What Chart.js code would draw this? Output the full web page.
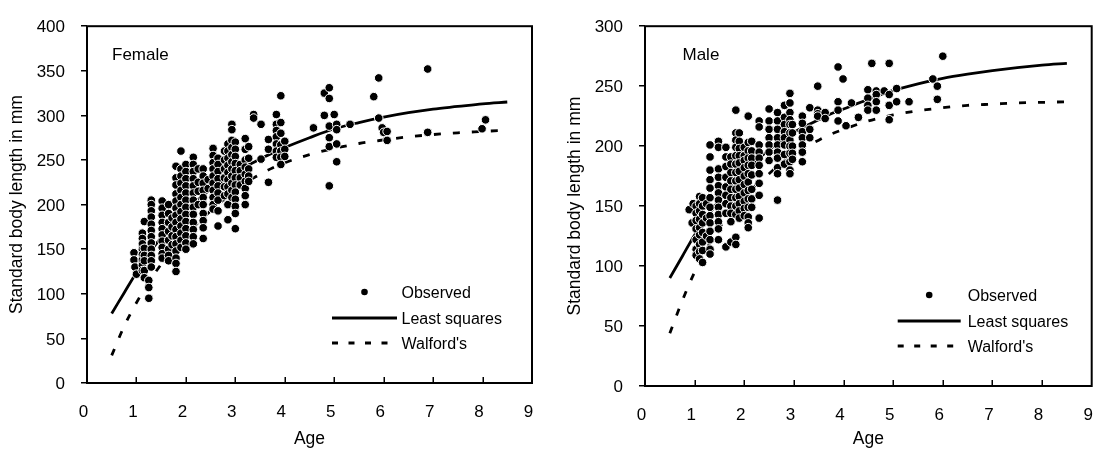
<!DOCTYPE html>
<html>
<head>
<meta charset="utf-8">
<script src="https://cdn.jsdelivr.net/npm/chart.js@4.4.1/dist/chart.umd.min.js"></script>
<style>
  html, body { margin: 0; padding: 0; background: #fff; }
  body { width: 1097px; height: 450px; position: relative; overflow: hidden; }
  canvas { position: absolute; top: 0; }
  #female { left: 0; }
  #male { left: 548px; }
</style>
</head>
<body>
<canvas id="female" width="548" height="450"></canvas>
<canvas id="male" width="549" height="450"></canvas>
<script>
// ---------------- DATA ----------------
const xTickLabels = ['0','1','2','3','4','5','6','7','8','9'];
const femaleYTicks = [0, 50, 100, 150, 200, 250, 300, 350, 400];
const maleYTicks = [0, 50, 100, 150, 200, 250, 300];
const legendLabels = ['Observed', 'Least squares', "Walford's"];

// ages at which the fitted curves were read
const curveAges = [0.5, 0.75, 1, 1.25, 1.5, 1.75, 2, 2.25, 2.5, 2.75, 3, 3.25, 3.5, 3.75, 4, 4.5, 5, 5.5, 6, 6.5, 7, 7.5, 8, 8.5];

const femaleLeastSquares = [78, 101, 124, 145, 163, 179, 193, 206, 217, 227, 236, 244, 251, 258, 264, 275, 285, 292, 298, 303, 307, 310, 313, 315];
const femaleWalford = [31, 63.5, 90, 113, 133, 150, 166, 180, 193, 205, 216, 226, 234, 241, 247, 256, 263, 268.5, 272.5, 276, 278.5, 280.5, 282, 283.5];

const maleLeastSquares = [90, 108, 126, 141, 155, 167, 178, 188, 197, 205, 211.5, 217, 222, 227, 231, 239, 246.5, 252, 256.5, 260, 263, 265.5, 267.5, 269];
const maleWalford = [44, 71, 95, 115, 132, 146, 158, 168, 177, 186, 193, 199.5, 205, 210, 214, 221, 226, 229.5, 232, 234, 235, 236, 236.5, 237];

// observed [age, standard body length]
const femaleObserved = [
 [0.95,146],[0.95,138],[0.97,130],[1.0,122],
 [1.12,168],[1.12,162],[1.12,156],[1.12,150],[1.12,144],[1.12,138],[1.12,132],[1.12,126],
 [1.16,181],[1.16,151],[1.16,143],[1.16,137],[1.16,126],[1.16,118],
 [1.25,115],[1.25,107],[1.25,95],
 [1.3,205],[1.3,200],[1.3,193],[1.3,186],[1.3,178],[1.3,171],[1.3,164],[1.3,157],[1.3,150],[1.3,143],[1.3,137],[1.3,130],
 [1.52,204],[1.52,196],[1.52,188],[1.52,180],[1.52,173],[1.52,166],[1.52,159],[1.52,152],[1.52,145],[1.52,140],
 [1.65,200],[1.65,190],[1.65,180],[1.65,170],[1.65,160],[1.65,150],[1.65,143],[1.65,137],
 [1.72,185],[1.72,175],[1.72,165],[1.72,155],
 [1.8,243],[1.8,230],[1.8,222],[1.8,212],[1.8,204],[1.8,196],[1.8,188],[1.8,180],[1.8,172],[1.8,164],[1.8,156],[1.8,148],[1.8,140],[1.8,134],[1.8,125],
 [1.9,260],[1.9,240],[1.9,232],[1.9,224],[1.9,216],[1.9,208],[1.9,200],[1.9,192],[1.9,184],[1.9,176],[1.9,168],[1.9,160],[1.9,152],
 [2.0,245],[2.0,237],[2.0,229],[2.0,221],[2.0,213],[2.0,205],[2.0,197],[2.0,189],[2.0,181],[2.0,173],[2.0,165],[2.0,157],[2.0,150],
 [2.15,253],[2.15,245],[2.15,237],[2.15,229],[2.15,221],[2.15,213],[2.15,205],[2.15,197],[2.15,189],[2.15,180],[2.15,172],[2.15,164],[2.15,156],
 [2.25,240],[2.25,225],[2.25,215],[2.25,200],
 [2.35,240],[2.35,232],[2.35,224],[2.35,216],[2.35,208],[2.35,200],[2.35,190],[2.35,182],[2.35,174],[2.35,162],
 [2.45,228],[2.45,218],
 [2.55,263],[2.55,255],[2.55,247],[2.55,240],[2.55,232],[2.55,224],[2.55,216],[2.55,208],[2.55,200],[2.55,195],
 [2.65,252],[2.65,245],[2.65,237],[2.65,229],[2.65,221],[2.65,213],[2.65,205],[2.65,193],[2.65,176],
 [2.78,260],[2.78,250],[2.78,240],[2.78,230],[2.78,220],[2.78,210],
 [2.85,268],[2.85,260],[2.85,252],[2.85,244],[2.85,236],[2.85,228],[2.85,220],[2.85,212],[2.85,200],[2.85,183],
 [2.93,290],[2.93,284],[2.93,272],[2.93,264],[2.93,256],[2.93,248],[2.93,240],[2.93,232],[2.93,224],[2.93,216],[2.93,208],
 [3.0,270],[3.0,262],[3.0,254],[3.0,246],[3.0,238],[3.0,230],[3.0,222],[3.0,214],[3.0,206],[3.0,198],[3.0,190],[3.0,173],
 [3.1,245],[3.1,238],[3.1,230],[3.1,222],
 [3.2,274],[3.2,262],[3.2,250],[3.2,242],[3.2,234],[3.2,226],[3.2,218],[3.2,210],[3.2,200],
 [3.27,265],[3.27,252],[3.27,240],[3.27,232],[3.27,226],
 [3.37,301],[3.37,297],
 [3.52,290],[3.52,251],
 [3.67,273],[3.67,262],[3.67,225],
 [3.83,301],[3.83,290],[3.83,283],[3.83,276],[3.83,268],[3.83,260],[3.83,253],
 [3.92,322],[3.92,292],[3.92,280],[3.92,267],[3.92,260],[3.92,253],[3.92,245],
 [4.0,271],[4.0,262],[4.0,254],
 [4.58,286],
 [4.8,325],[4.8,300],
 [4.9,331],[4.9,319],[4.9,288],[4.9,275],[4.9,265],[4.9,221],
 [5.0,301],
 [5.05,290],[5.05,284],[5.05,268],[5.05,248],
 [5.32,290],
 [5.8,321],
 [5.9,342],[5.9,297],
 [5.97,286],
 [6.0,281],
 [6.07,282],[6.07,272],
 [6.89,352],[6.89,281],
 [7.99,285],[8.06,295]
];

const maleObserved = [
 [0.89,147],[0.95,136],[0.97,152],
 [1.03,150],[1.03,144],[1.03,138],[1.03,131],[1.03,122],[1.03,114],[1.03,109],
 [1.1,158],[1.1,152],[1.1,146],[1.1,139],[1.1,132],[1.1,126],[1.1,118],[1.1,112],[1.1,106],
 [1.16,157],[1.16,150],[1.16,143],[1.16,136],[1.16,128],[1.16,120],[1.16,113],[1.16,103],
 [1.24,152],[1.24,140],[1.24,125],
 [1.31,201],[1.31,191],[1.31,180],[1.31,172],[1.31,165],[1.31,157],[1.31,149],[1.31,142],[1.31,136],[1.31,129],[1.31,122],[1.31,114],[1.31,110],
 [1.48,204],[1.48,199],[1.48,181],[1.48,174],[1.48,167],[1.48,161],[1.48,155],[1.48,149],[1.48,143],[1.48,137],[1.48,131],[1.48,122],
 [1.63,199],[1.63,191],[1.63,183],[1.63,174],[1.63,166],[1.63,159],[1.63,152],[1.63,144],[1.63,116],
 [1.73,191],[1.73,185],[1.73,178],[1.73,171],[1.73,164],[1.73,157],[1.73,150],[1.73,144],[1.73,137],[1.73,120],
 [1.83,230],[1.83,211],[1.83,205],[1.83,199],[1.83,192],[1.83,185],[1.83,178],[1.83,171],[1.83,164],[1.83,157],[1.83,150],[1.83,143],[1.83,124],[1.83,118],
 [1.9,211],[1.9,204],[1.9,198],[1.9,192],[1.9,186],[1.9,179],[1.9,172],[1.9,165],[1.9,158],[1.9,152],[1.9,146],[1.9,140],
 [2.0,199],[2.0,192],[2.0,188],[2.0,182],[2.0,175],[2.0,168],[2.0,161],[2.0,154],[2.0,148],[2.0,142],
 [2.08,225],[2.08,203],[2.08,196],[2.08,190],[2.08,184],[2.08,177],[2.08,170],[2.08,163],[2.08,156],[2.08,149],[2.08,141],[2.08,136],[2.08,132],
 [2.15,204],[2.15,196],[2.15,190],[2.15,184],[2.15,176],[2.15,164],[2.15,156],[2.15,149],
 [2.3,221],[2.3,216],[2.3,201],[2.3,195],[2.3,190],[2.3,184],[2.3,177],[2.3,169],[2.3,159],[2.3,140],
 [2.5,231],[2.5,221],[2.5,214],[2.5,207],[2.5,201],[2.5,195],[2.5,188],
 [2.67,228],[2.67,221],[2.67,214],[2.67,207],[2.67,201],[2.67,195],[2.67,190],[2.67,182],[2.67,177],[2.67,155],
 [2.81,234],[2.81,224],[2.81,218],[2.81,212],[2.81,207],[2.81,201],[2.81,193],[2.81,185],
 [2.92,244],[2.92,236],[2.92,228],[2.92,222],[2.92,218],[2.92,211],[2.92,205],[2.92,200],[2.92,194],[2.92,187],[2.92,180],[2.92,177],
 [2.97,218],[2.97,211],[2.97,200],[2.97,194],[2.97,189],
 [3.17,225],[3.17,219],[3.17,212],[3.17,207],[3.17,201],[3.17,195],[3.17,187],
 [3.32,232],[3.32,214],[3.32,207],
 [3.48,250],[3.48,230],[3.48,227],[3.48,225],
 [3.63,228],[3.63,223],
 [3.89,266],[3.89,237],[3.89,230],[3.89,221],
 [3.99,256],[4.05,217],[4.16,236],[4.3,224],
 [4.49,247],[4.49,240],[4.49,234],[4.49,230],
 [4.57,269],
 [4.66,246],[4.66,243],[4.66,237],[4.66,230],
 [4.82,246],
 [4.92,269],[4.92,243],[4.92,234],[4.92,222],
 [5.07,248],[5.07,237],
 [5.32,237],
 [5.8,256],
 [5.89,250],[5.89,239],
 [6.0,275]
];

// ---------------- CHART ----------------
const FONT = '"Liberation Sans", Arial, sans-serif';

const decorPlugin = {
  id: 'decor',
  afterDraw(chart, args, opts) {
    const { ctx, chartArea: a, scales: { x } } = chart;
    ctx.save();
    // inward x ticks
    ctx.strokeStyle = '#000';
    ctx.lineWidth = 1.5;
    x.ticks.forEach(t => {
      if (t.value <= x.min || t.value >= x.max) return;
      const px = Math.round(x.getPixelForValue(t.value)) + 0.25;
      ctx.beginPath();
      ctx.moveTo(px, a.bottom);
      ctx.lineTo(px, a.bottom - 6);
      ctx.stroke();
    });
    // frame
    ctx.lineWidth = 2;
    ctx.strokeRect(a.left, a.top, a.right - a.left, a.bottom - a.top);
    // panel label
    ctx.fillStyle = '#000';
    ctx.font = '17px ' + FONT;
    ctx.textAlign = 'left';
    ctx.textBaseline = 'middle';
    ctx.fillText(opts.panelLabel, a.left + opts.labelDx, a.top + 29);
    // legend
    const ds = chart.data.datasets;
    const lx0 = a.right - opts.legLine0;
    const lx1 = a.right - opts.legLine1;
    const tx = a.right - opts.legText;
    const rows = [a.bottom - 91, a.bottom - 65, a.bottom - 40];
    ctx.font = '16px ' + FONT;
    ds.forEach((d, i) => {
      const y = rows[i];
      if (i === 0) {
        ctx.beginPath();
        ctx.arc((lx0 + lx1) / 2, y, 3.3, 0, Math.PI * 2);
        ctx.fillStyle = d.pointBackgroundColor;
        ctx.fill();
      } else {
        ctx.beginPath();
        ctx.strokeStyle = d.borderColor;
        ctx.lineWidth = 3;
        ctx.setLineDash(i === 2 ? [6, 10.5] : []);
        ctx.moveTo(lx0, y);
        ctx.lineTo(lx1, y);
        ctx.stroke();
        ctx.setLineDash([]);
      }
      ctx.fillStyle = '#000';
      ctx.fillText(d.label, tx, y + 2);
    });
    ctx.restore();
  }
};

function makePanel(canvasId, observed, ls, wf, yMax, yTicks, geom) {
  const obsPoints = observed.map(p => ({ x: p[0], y: p[1] }));
  const lsPoints = curveAges.map((a, i) => ({ x: a, y: ls[i] }));
  const wfPoints = curveAges.map((a, i) => ({ x: a, y: wf[i] }));
  return new Chart(document.getElementById(canvasId), {
    type: 'scatter',
    data: {
      datasets: [
        {
          label: legendLabels[0], data: obsPoints, order: 0,
          pointRadius: 4.3, pointBackgroundColor: '#000', pointBorderColor: '#fff', pointBorderWidth: 1,
          showLine: false
        },
        {
          label: legendLabels[1], data: lsPoints, order: 2, showLine: true,
          borderColor: '#000', borderWidth: 2.8, pointRadius: 0, cubicInterpolationMode: 'monotone', fill: false
        },
        {
          label: legendLabels[2], data: wfPoints, order: 1, showLine: true,
          borderColor: '#000', borderWidth: 2.8, borderDash: [7, 12], pointRadius: 0, cubicInterpolationMode: 'monotone', fill: false
        }
      ]
    },
    options: {
      responsive: false,
      animation: false,
      devicePixelRatio: 1,
      layout: { padding: { left: 0, right: geom.padRight, top: 20, bottom: 0 } },
      plugins: {
        legend: { display: false },
        tooltip: { enabled: false },
        decor: { panelLabel: geom.label, labelDx: geom.labelDx, legLine0: geom.legLine0, legLine1: geom.legLine1, legText: geom.legText }
      },
      scales: {
        x: {
          type: 'linear', min: 0, max: 9,
          afterBuildTicks: s => { s.ticks = xTickLabels.map(v => ({ value: Number(v) })); },
          afterFit: s => { s.height = geom.xHeight; s.paddingLeft = 0; s.paddingRight = 0; },
          grid: { display: false, drawTicks: false },
          border: { display: false },
          ticks: {
            autoSkip: false, maxRotation: 0, padding: 19, labelOffset: -3.5,
            color: '#000', font: { family: FONT, size: 17 },
            callback: (v) => xTickLabels[v]
          },
          title: { display: true, text: 'Age', color: '#000', font: { family: FONT, size: 17.5 }, padding: { top: 0, bottom: 0 } }
        },
        y: {
          type: 'linear', min: 0, max: yMax,
          afterBuildTicks: s => { s.ticks = yTicks.map(v => ({ value: v })); },
          afterFit: s => { s.width = geom.yWidth; },
          grid: { display: true, drawOnChartArea: false, drawTicks: true, tickLength: 6, color: '#000', lineWidth: 1.5 },
          border: { display: false },
          ticks: {
            autoSkip: false, padding: 16, labelOffset: 1.5,
            color: '#000', font: { family: FONT, size: 17 },
            callback: (v) => String(v)
          },
          title: { display: true, text: 'Standard body length in mm', color: '#000', font: { family: FONT, size: 17.5 }, padding: { top: geom.yTitlePad, bottom: 0 } }
        }
      }
    },
    plugins: [decorPlugin]
  });
}

makePanel('female', femaleObserved, femaleLeastSquares, femaleWalford, 400, femaleYTicks,
  { padRight: 16, xHeight: 67, yWidth: 87, yTitlePad: 6.5, label: 'Female', labelDx: 25,
    legLine0: 200, legLine1: 135, legText: 130.5 });
makePanel('male', maleObserved, maleLeastSquares, maleWalford, 300, maleYTicks,
  { padRight: 3, xHeight: 64, yWidth: 97, yTitlePad: 17, label: 'Male', labelDx: 37.5,
    legLine0: 194, legLine1: 131, legText: 124 });
</script>
</body>
</html>
